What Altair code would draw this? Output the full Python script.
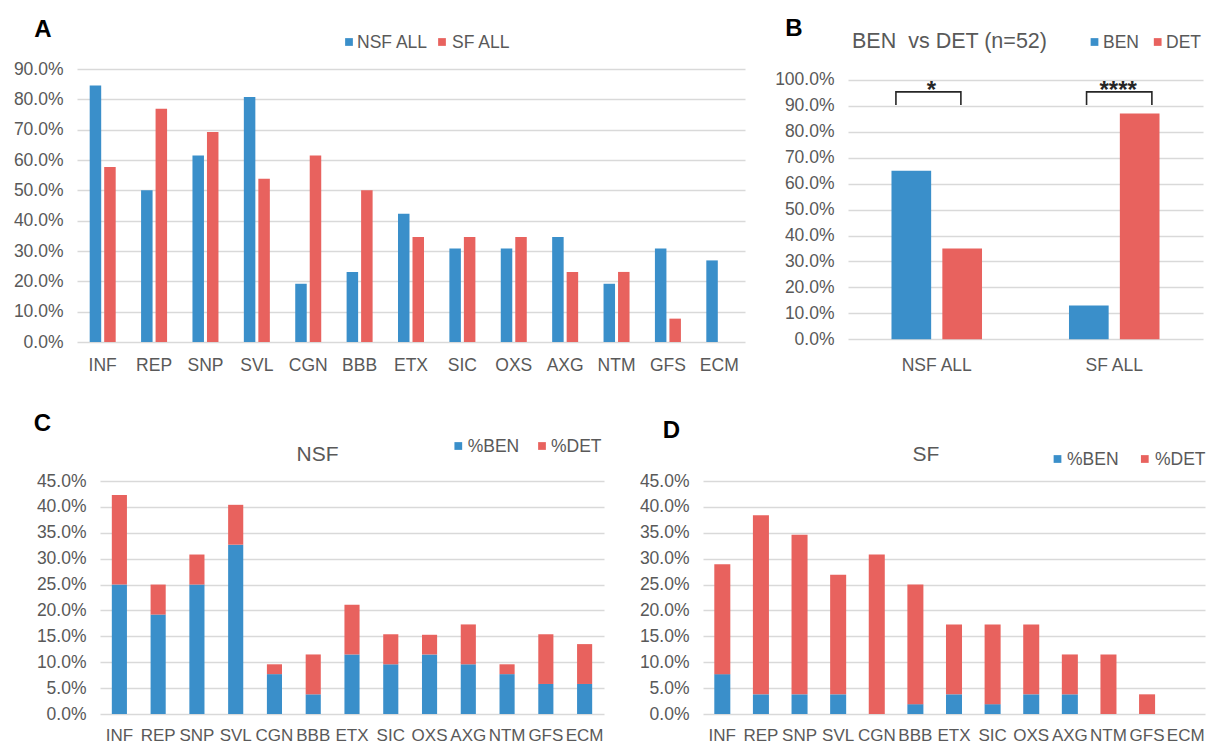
import altair as alt
import pandas as pd

FONT = "Liberation Sans"
BLUE = "#3A8FCA"
RED = "#E8625E"
GRAY = "#595959"
GRID = "#D9D9D9"
INK = "#262626"

# ---------------- data ----------------
categories = ["INF", "REP", "SNP", "SVL", "CGN", "BBB", "ETX", "SIC", "OXS", "AXG", "NTM", "GFS", "ECM"]

# Panel A
series_a = ["NSF ALL", "SF ALL"]
nsf_all = [0.846, 0.500, 0.615, 0.808, 0.192, 0.231, 0.423, 0.308, 0.308, 0.346, 0.192, 0.308, 0.269]
sf_all = [0.577, 0.769, 0.692, 0.538, 0.615, 0.500, 0.346, 0.346, 0.346, 0.231, 0.231, 0.077, 0.0]

# Panel B
b_groups = ["NSF ALL", "SF ALL"]
series_b = ["BEN", "DET"]
b_ben = [0.650, 0.130]
b_det = [0.350, 0.870]
b_sig = ["*", "****"]
b_title = "BEN\u00a0 vs DET (n=52)"
# brackets: fraction of panel width (left, right) and y levels
bracket_x = [(0.135, 0.318), (0.672, 0.856)]
bracket_low = 0.903
bracket_high = 0.954
star_x = [0.235, 0.761]

# Panels C / D
series_cd = ["%BEN", "%DET"]
nsf_ben = [0.250, 0.192, 0.250, 0.327, 0.077, 0.038, 0.115, 0.096, 0.115, 0.096, 0.077, 0.058, 0.058]
nsf_det = [0.173, 0.058, 0.058, 0.077, 0.019, 0.077, 0.096, 0.058, 0.038, 0.077, 0.019, 0.096, 0.077]
sf_ben = [0.077, 0.038, 0.038, 0.038, 0.0, 0.019, 0.038, 0.019, 0.038, 0.038, 0.0, 0.0, 0.0]
sf_det = [0.212, 0.346, 0.308, 0.231, 0.308, 0.231, 0.135, 0.154, 0.135, 0.077, 0.115, 0.038, 0.0]

ticks_a = [round(i * 0.1, 2) for i in range(10)]
ticks_b = [round(i * 0.1, 2) for i in range(11)]
ticks_cd = [round(i * 0.05, 2) for i in range(10)]


# ---------------- helpers ----------------
def y_axis(vals, extent, labels=True):
    return alt.Axis(values=vals, format=".1%", title=None, domain=False, ticks=False, grid=True,
                    gridColor=GRID, gridWidth=1.5, labels=labels, labelFont=FONT, labelFontSize=17.5,
                    labelColor=GRAY, labelPadding=14, labelOverlap=False,
                    minExtent=extent, maxExtent=extent)


def x_axis(size, pad, extent):
    return alt.Axis(title=None, domain=False, ticks=False, grid=False, labelAngle=0,
                    labelFont=FONT, labelFontSize=size, labelColor=GRAY, labelPadding=pad,
                    labelOverlap=False, minExtent=extent, maxExtent=extent)


def text_layer(txt, x, y, size, bold, color, align="center"):
    return alt.Chart(pd.DataFrame({"t": [txt]})).mark_text(
        font=FONT, fontSize=size, fontWeight="bold" if bold else "normal", color=color,
        align=align, baseline="middle").encode(text="t:N", x=alt.value(x), y=alt.value(y))


def legend_layers(names, colors, sym_x, txt_x, y):
    out = []
    for name, col, sx, tx in zip(names, colors, sym_x, txt_x):
        out.append(alt.Chart(pd.DataFrame({"t": [name]})).mark_square(size=60, color=col, opacity=1)
                   .encode(x=alt.value(sx), y=alt.value(y)))
        out.append(alt.Chart(pd.DataFrame({"t": [name]})).mark_text(
            font=FONT, fontSize=17.5, color=GRAY, align="left", baseline="middle")
            .encode(text="t:N", x=alt.value(tx), y=alt.value(y + 1)))
    return out


n = len(categories)

# ---------------- Panel A ----------------
dfA = pd.DataFrame({"category": categories * 2,
                    "seriesA": [series_a[0]] * n + [series_a[1]] * n,
                    "value": nsf_all + sf_all})
barsA = alt.Chart(dfA).mark_bar().encode(
    x=alt.X("category:N", sort=categories, axis=x_axis(17.5, 14, 32),
            scale=alt.Scale(paddingInner=0.494, paddingOuter=0.247)),
    xOffset=alt.XOffset("seriesA:N", sort=series_a, scale=alt.Scale(paddingInner=0.207, paddingOuter=0)),
    y=alt.Y("value:Q", stack=None, scale=alt.Scale(domain=[0, 0.9], nice=False), axis=y_axis(ticks_a, 77)),
    color=alt.Color("seriesA:N", sort=series_a, scale=alt.Scale(domain=series_a, range=[BLUE, RED]),
                    legend=None),
)
panelA = alt.layer(
    barsA, text_layer("A", -34, -39, 24, True, "black"),
    *legend_layers(series_a, [BLUE, RED], [272, 365], [280, 375], -27),
).properties(width=668, height=273)

# ---------------- Panel B ----------------
axis_b = y_axis(ticks_b, 76)
scale_b = alt.Scale(domain=[-0.0104, 1.042], nice=False, zero=False)
dfB = pd.DataFrame({"group": b_groups * 2,
                    "seriesB": [series_b[0]] * 2 + [series_b[1]] * 2,
                    "value": b_ben + b_det})
barsB = alt.Chart(dfB).mark_bar().encode(
    x=alt.X("group:N", sort=b_groups, axis=x_axis(17.5, 14, 32),
            scale=alt.Scale(paddingInner=0.49, paddingOuter=0.245)),
    xOffset=alt.XOffset("seriesB:N", sort=series_b, scale=alt.Scale(paddingInner=0.22, paddingOuter=0)),
    y=alt.Y("value:Q", stack=None, scale=scale_b, axis=axis_b),
    color=alt.Color("seriesB:N", sort=series_b, scale=alt.Scale(domain=series_b, range=[BLUE, RED]),
                    legend=None),
)
rows = []
for i, (xl, xr) in enumerate(bracket_x):
    rows += [
        {"id": i, "ord": 0, "bx": xl, "value": bracket_low},
        {"id": i, "ord": 1, "bx": xl, "value": bracket_high},
        {"id": i, "ord": 2, "bx": xr, "value": bracket_high},
        {"id": i, "ord": 3, "bx": xr, "value": bracket_low},
    ]
dfBr = pd.DataFrame(rows)
brackets = alt.Chart(dfBr).mark_line(color=INK, strokeWidth=1.6).encode(
    x=alt.X("bx:Q", scale=alt.Scale(domain=[0, 1], nice=False, zero=False), axis=None),
    y=alt.Y("value:Q", stack=None, scale=scale_b, axis=axis_b),
    detail="id:N",
    order="ord:Q",
)
dfStars = pd.DataFrame({"bx": star_x, "value": [bracket_high] * 2, "s": b_sig})
stars = alt.Chart(dfStars).mark_text(font=FONT, fontSize=24, fontWeight="bold", color=INK,
                                     baseline="alphabetic", dy=6).encode(
    x=alt.X("bx:Q", scale=alt.Scale(domain=[0, 1], nice=False, zero=False), axis=None),
    y=alt.Y("value:Q", stack=None, scale=scale_b, axis=axis_b),
    text="s:N",
)
panelB = alt.layer(
    barsB, brackets, stars,
    text_layer("B", -54, -40.5, 24, True, "black"),
    text_layer(b_title, 4, -27, 21.5, False, GRAY, align="left"),
    *legend_layers(series_b, [BLUE, RED], [246.5, 309.7], [255, 318], -27),
).resolve_scale(x="independent").properties(width=355, height=273)


# ---------------- Panels C / D ----------------
def stacked(ben, det, field, ext_y, show_labels, pin, title, title_xy, width, leg_sx, leg_tx, leg_y,
            letter=None, letter_xy=None):
    df = pd.DataFrame({"category": categories * 2,
                       field: [series_cd[0]] * n + [series_cd[1]] * n,
                       "value": ben + det,
                       "ord": [0] * n + [1] * n})
    bars = alt.Chart(df).mark_bar().encode(
        x=alt.X("category:N", sort=categories, axis=x_axis(17, 13, 28),
                scale=alt.Scale(paddingInner=pin, paddingOuter=pin / 2)),
        y=alt.Y("value:Q", stack="zero", scale=alt.Scale(domain=[0, 0.45], nice=False),
                axis=y_axis(ticks_cd, ext_y, show_labels)),
        color=alt.Color(f"{field}:N", sort=series_cd,
                        scale=alt.Scale(domain=series_cd, range=[BLUE, RED]), legend=None),
        order=alt.Order("ord:Q", sort="ascending"),
    )
    layers = [bars, text_layer(title, title_xy[0], title_xy[1], 21, False, GRAY)]
    layers += legend_layers(series_cd, [BLUE, RED], leg_sx, leg_tx, leg_y)
    if letter:
        layers.append(text_layer(letter, letter_xy[0], letter_xy[1], 24, True, "black"))
    return alt.layer(*layers).properties(width=width, height=233)


# Panel C sits 23 px right of panel A: a narrow holder carries its letter and its y labels
df_ticks = pd.DataFrame({"tick": ticks_cd})
holder_axis = alt.Axis(values=ticks_cd, format=".1%", title=None, orient="right", domain=False,
                       ticks=False, grid=False, labelAlign="right", labelPadding=0,
                       labelFont=FONT, labelFontSize=17.5, labelColor=GRAY, labelOverlap=False)
holder_pts = alt.Chart(df_ticks).mark_point(opacity=0).encode(
    y=alt.Y("tick:Q", scale=alt.Scale(domain=[0, 0.45], nice=False), axis=holder_axis))
holderC = alt.layer(holder_pts, text_layer("C", -34.5, -57, 24, True, "black")).properties(width=9, height=233)

panelC = stacked(nsf_ben, nsf_det, "seriesC", 0, False, 0.61, "NSF", (217.5, -26), 504,
                 [358.3, 442], [367.7, 451], -35)
panelD = stacked(sf_ben, sf_det, "seriesD", 66, True, 0.585, "SF", (223, -26), 502,
                 [354.5, 441.8], [364, 452], -22, "D", (-31.5, -50.5))

indep = dict(x="independent", y="independent", color="independent", xOffset="independent")

row1 = alt.hconcat(panelA, panelB, spacing=27).resolve_scale(**indep)
cd = alt.hconcat(panelC, panelD, spacing=33).resolve_scale(**indep)
row2 = alt.hconcat(holderC, cd, spacing=14).resolve_scale(**indep)

chart = alt.vconcat(row1, row2, spacing=38).resolve_scale(**indep).properties(
    padding={"left": 0, "top": 16, "right": 0, "bottom": 0},
    background="white",
).configure_view(stroke=None)

chart.save("out.html", embed_options={"renderer": "svg", "actions": False})
